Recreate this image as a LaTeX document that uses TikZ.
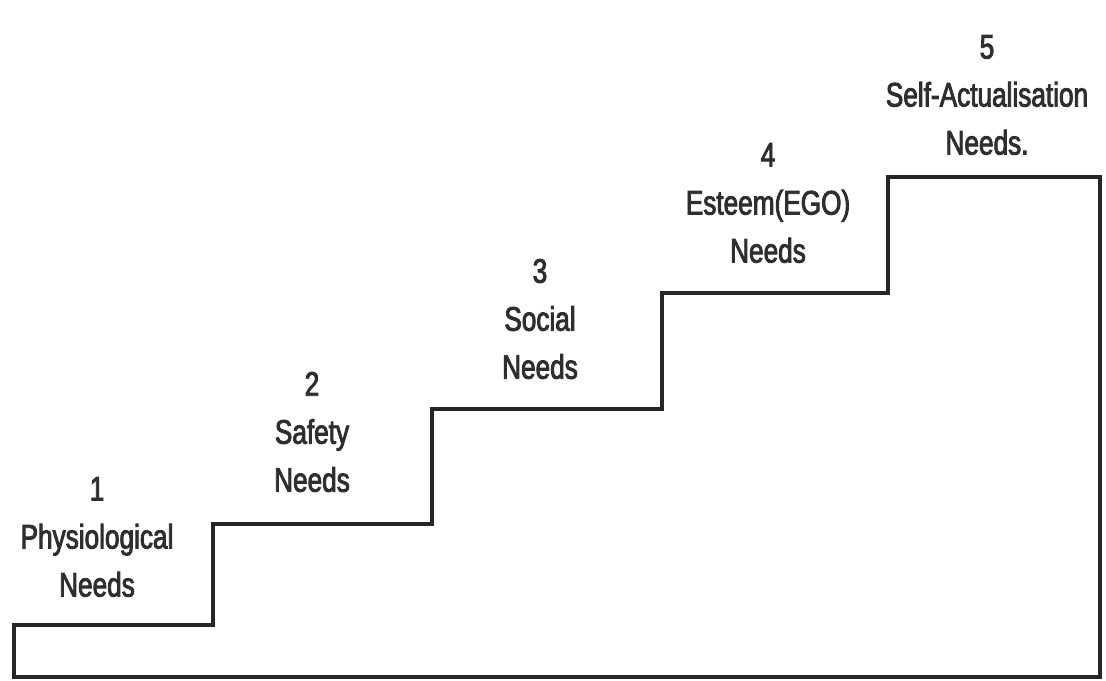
\documentclass[tikz,border=0pt]{standalone}
\usepackage{fontspec}
\setmainfont{Liberation Sans}[FakeStretch=0.77,FakeBold=2.5]
\begin{document}
\begin{tikzpicture}[x=0.5pt,y=-0.5pt,
  stairline/.style={draw=black!85,line width=1.6pt,line join=miter},
  lbl/.style={align=center,font=\fontsize{17}{24}\selectfont,text=black!82,inner sep=0pt}]
\useasboundingbox (0,0) rectangle (1106,680);
\fill[white] (0,0) rectangle (1106,680);
\coordinate (bl) at (14,677);
\coordinate (s1) at (14,625);
\coordinate (r1b) at (213,625);
\coordinate (r1t) at (213,524);
\coordinate (r2b) at (432,524);
\coordinate (r2t) at (432,409);
\coordinate (r3b) at (662,409);
\coordinate (r3t) at (662,293);
\coordinate (r4b) at (888,293);
\coordinate (r4t) at (888,177);
\coordinate (tr) at (1100,177);
\coordinate (br) at (1100,677);
\draw[stairline] (bl) -- (s1) -- (r1b) -- (r1t) -- (r2b) -- (r2t) -- (r3b) -- (r3t) -- (r4b) -- (r4t) -- (tr) -- (br) -- cycle;
\node[lbl] (n1) at (97,537) {1\\Physiological\\Needs};
\node[lbl] (n2) at (312,432) {2\\Safety\\Needs};
\node[lbl] (n3) at (540,319) {3\\Social\\Needs};
\node[lbl] (n4) at (768,203) {4\\Esteem(EGO)\\Needs};
\node[lbl] (n5) at (987,95) {5\\Self-Actualisation\\Needs.};
\end{tikzpicture}
\end{document}
